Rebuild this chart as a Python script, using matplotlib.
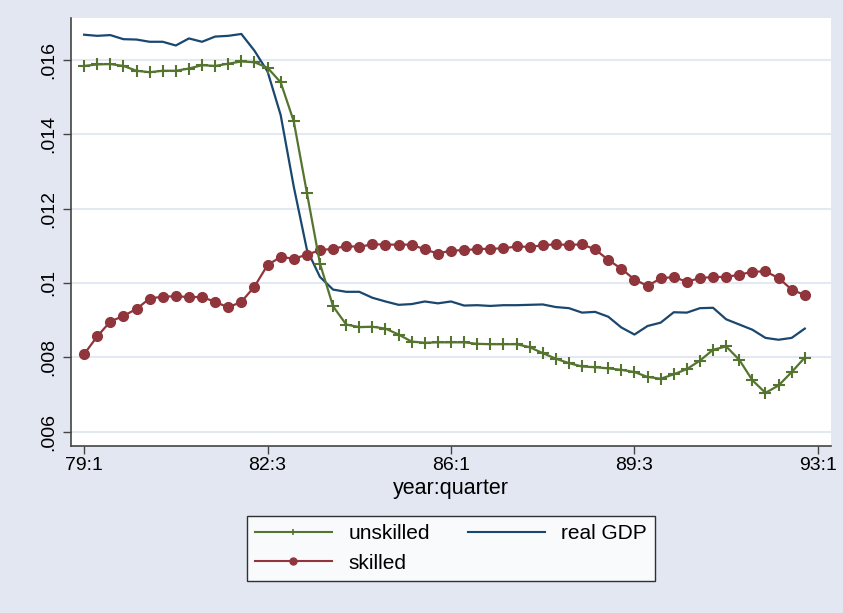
import numpy as np
import matplotlib
matplotlib.use('Agg')
import matplotlib.pyplot as plt
from matplotlib.lines import Line2D

# quarterly series, 79:1 .. 92:4
unskilled = [0.01584, 0.01588, 0.01589, 0.01584, 0.01571, 0.01567, 0.01571, 0.01571,
             0.01577, 0.01586, 0.01584, 0.01590, 0.01596, 0.01594, 0.01579, 0.01540,
             0.01435, 0.01243, 0.01052, 0.00937, 0.00888, 0.00881, 0.00882, 0.00877,
             0.00861, 0.00842, 0.00839, 0.00840, 0.00840, 0.00840, 0.00836, 0.00835,
             0.00835, 0.00835, 0.00827, 0.00811, 0.00796, 0.00784, 0.00775, 0.00773,
             0.00770, 0.00766, 0.00760, 0.00747, 0.00742, 0.00754, 0.00768, 0.00791,
             0.00820, 0.00829, 0.00793, 0.00738, 0.00704, 0.00724, 0.00760, 0.00799]

skilled = [0.00808, 0.00856, 0.00896, 0.00911, 0.00930, 0.00958, 0.00963, 0.00964,
           0.00962, 0.00962, 0.00949, 0.00934, 0.00949, 0.00990, 0.01048, 0.01070,
           0.01065, 0.01076, 0.01088, 0.01092, 0.01099, 0.01097, 0.01104, 0.01103,
           0.01103, 0.01103, 0.01090, 0.01079, 0.01087, 0.01088, 0.01091, 0.01092,
           0.01093, 0.01098, 0.01097, 0.01101, 0.01104, 0.01102, 0.01104, 0.01090,
           0.01062, 0.01038, 0.01009, 0.00992, 0.01012, 0.01016, 0.01003, 0.01013,
           0.01016, 0.01016, 0.01022, 0.01030, 0.01031, 0.01013, 0.00982, 0.00967]

real_gdp = [0.01668, 0.01665, 0.01667, 0.01656, 0.01655, 0.01649, 0.01649, 0.01639,
            0.01658, 0.01649, 0.01663, 0.01665, 0.01670, 0.01625, 0.01569, 0.01452,
            0.01259, 0.01090, 0.01016, 0.00982, 0.00976, 0.00976, 0.00960, 0.00950,
            0.00941, 0.00943, 0.00950, 0.00945, 0.00950, 0.00939, 0.00940, 0.00938,
            0.00940, 0.00940, 0.00941, 0.00942, 0.00935, 0.00932, 0.00920, 0.00922,
            0.00909, 0.00880, 0.00861, 0.00884, 0.00893, 0.00921, 0.00920, 0.00932,
            0.00933, 0.00902, 0.00888, 0.00874, 0.00852, 0.00847, 0.00852, 0.00877]

xtick_labels = ['79:1', '82:3', '86:1', '89:3', '93:1']
ytick_values = [0.006, 0.008, 0.010, 0.012, 0.014, 0.016]
ytick_labels = ['.006', '.008', '.01', '.012', '.014', '.016']

# stata s2color-ish
green = '#55752F'
navy = '#1A476F'
maroon = '#90353B'
bg = '#E2E7F1'
grid_col = '#E3E8F2'

plt.rcParams['font.family'] = ['Liberation Sans', 'DejaVu Sans']

fig = plt.figure(figsize=(8.43, 6.13), dpi=100, facecolor=bg)
ax = fig.add_axes([71/843, 1-446/613, 760/843, 428/613])
ax.set_facecolor('white')

t = np.arange(len(unskilled))

ax.plot(t, real_gdp, color=navy, lw=1.6, zorder=3)
ax.plot(t, skilled, color=maroon, lw=1.6, marker='o', ms=7, mec=maroon, zorder=4)
ax.plot(t, unskilled, color=green, lw=1.6, marker='+', ms=8, mew=1.5, zorder=5)

ax.set_xlim(-1, len(unskilled) + 1)
ax.set_ylim(0.00561, 0.01713)

ax.set_xticks([0, 14, 28, 42, 56])
ax.set_xticklabels(xtick_labels, fontsize=14)
ax.set_yticks(ytick_values)
ax.set_yticklabels(ytick_labels, fontsize=14, rotation=90, va='center')
ax.tick_params(axis='both', direction='out', length=6, width=1, color='#444444')
ax.tick_params(axis='x', pad=2)
ax.tick_params(axis='y', pad=4)

ax.grid(axis='y', color=grid_col, lw=1.5)
ax.set_axisbelow(True)

for s in ['top', 'right']:
    ax.spines[s].set_visible(False)
for s in ['left', 'bottom']:
    ax.spines[s].set_color('#444444')
    ax.spines[s].set_linewidth(1.2)

ax.set_xlabel('year:quarter', fontsize=15.5, labelpad=3)

# legend with smaller markers like stata
handles = [
    Line2D([], [], color=green, lw=1.5, marker='+', ms=5, mew=1.2),
    Line2D([], [], color=maroon, lw=1.5, marker='o', ms=5),
    Line2D([], [], color=navy, lw=1.5),
]
labels = ['unskilled', 'skilled', 'real GDP']
leg = fig.legend(handles, labels, ncol=2, loc='center', bbox_to_anchor=(451/843, 1-548.5/613),
                 frameon=True, fancybox=False, edgecolor='black', facecolor='white',
                 fontsize=15, handlelength=3.7, numpoints=1, columnspacing=1.8,
                 borderpad=0.4, labelspacing=0.5, handletextpad=0.8)
leg.get_frame().set_linewidth(1)

fig.savefig('out.png', dpi=100, facecolor=bg)
